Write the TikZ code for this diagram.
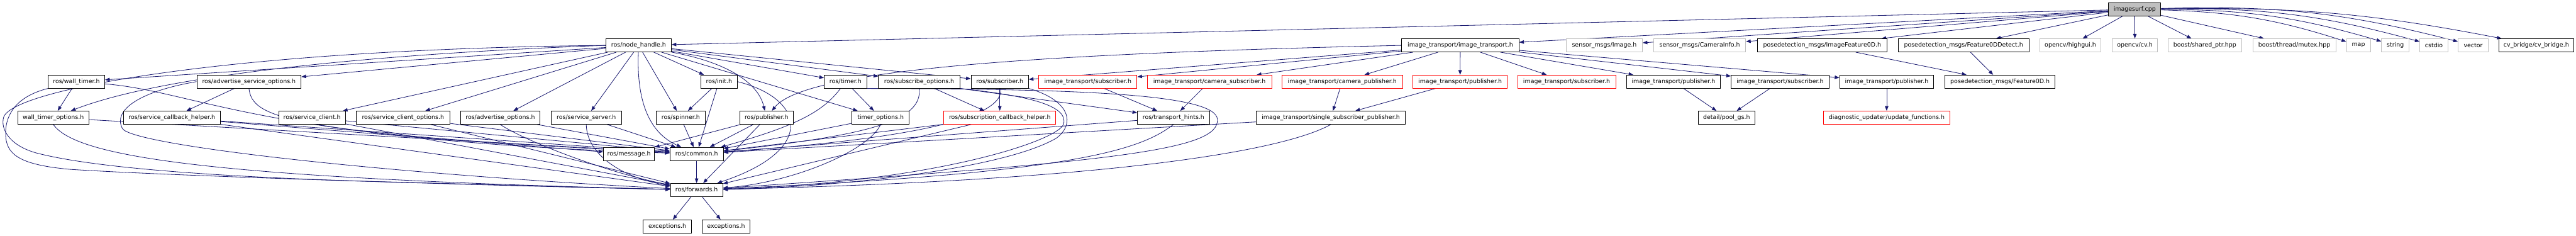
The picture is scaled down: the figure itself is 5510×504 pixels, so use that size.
\documentclass[tikz,border=0pt]{standalone}
\usepackage{fontspec}
\newfontfamily\dv{DejaVu Sans}
\usetikzlibrary{arrows.meta,backgrounds}
\definecolor{edgec}{HTML}{191970}
\definecolor{lgray}{HTML}{BFBFBF}
\tikzset{
 box/.style={draw=black,line width=1.2pt,fill=white,minimum height=28pt,inner sep=0pt,font={\dv\fontsize{12.7pt}{15pt}\selectfont}},
 redbox/.style={box,draw=red},
 graybox/.style={box,draw=lgray},
 rootbox/.style={box,fill=lgray},
 edge/.style={draw=edgec,line width=1.1pt,-{Triangle[length=10pt,width=7.5pt]}},
}
\newcommand\NB[6]{\node[#1,minimum width={#4-#3}] (#2) at ({(#3+#4)/2},#5) {#6};}
\begin{document}
\begin{tikzpicture}[x=1pt,y=-1pt]
\useasboundingbox (0,0) rectangle (5510,504);
% row 0
\NB{rootbox}{is}{4510}{4622}{20}{imagesurf.cpp}
% row 1
\NB{box}{nh}{1296}{1436}{97}{ros/node\_handle.h}
\NB{box}{it}{2998}{3249}{97}{image\_transport/image\_transport.h}
\NB{graybox}{smi}{3350}{3513}{97}{sensor\_msgs/Image.h}
\NB{graybox}{smc}{3537}{3734}{97}{sensor\_msgs/CameraInfo.h}
\NB{box}{pif}{3759}{4036}{97}{posedetection\_msgs/ImageFeature0D.h}
\NB{box}{pfd}{4060}{4340}{97}{posedetection\_msgs/Feature0DDetect.h}
\NB{graybox}{hg}{4363}{4494}{97}{opencv/highgui.h}
\NB{graybox}{cv}{4518}{4615}{97}{opencv/cv.h}
\NB{graybox}{sp}{4637}{4795}{97}{boost/shared\_ptr.hpp}
\NB{graybox}{mx}{4819}{4996}{97}{boost/thread/mutex.hpp}
\NB{graybox}{map}{5019}{5070}{97}{map}
\NB{graybox}{str}{5094}{5153}{97}{string}
\NB{graybox}{cst}{5176}{5236}{97}{cstdio}
\NB{graybox}{vec}{5258}{5322}{97}{vector}
\NB{box}{cvb}{5345}{5505}{97}{cv\_bridge/cv\_bridge.h}
% row 2
\NB{box}{wt}{103}{224}{174.5}{ros/wall\_timer.h}
\NB{box}{aso}{421}{644}{174.5}{ros/advertise\_service\_options.h}
\NB{box}{ini}{1499}{1577}{174.5}{ros/init.h}
\NB{box}{tim}{1763}{1854}{174.5}{ros/timer.h}
\NB{box}{so}{1879}{2053}{174.5}{ros/subscribe\_options.h}
\NB{box}{sub}{2077}{2200}{174.5}{ros/subscriber.h}
\NB{redbox}{its1}{2222}{2432}{174.5}{image\_transport/subscriber.h}
\NB{redbox}{itcs}{2454}{2720}{174.5}{image\_transport/camera\_subscriber.h}
\NB{redbox}{itcp}{2742}{3000}{174.5}{image\_transport/camera\_publisher.h}
\NB{redbox}{itp1}{3022}{3224}{174.5}{image\_transport/publisher.h}
\NB{redbox}{its2}{3246}{3456}{174.5}{image\_transport/subscriber.h}
\NB{box}{itp2}{3479}{3680}{174.5}{image\_transport/publisher.h}
\NB{box}{its3}{3703}{3912}{174.5}{image\_transport/subscriber.h}
\NB{box}{itp3}{3935}{4136}{174.5}{image\_transport/publisher.h}
\NB{box}{f0d}{4160}{4396}{174.5}{posedetection\_msgs/Feature0D.h}
% row 3
\NB{box}{wto}{38}{190}{251.5}{wall\_timer\_options.h}
\NB{box}{sch}{264}{471}{251.5}{ros/service\_callback\_helper.h}
\NB{box}{sc}{596}{739}{251.5}{ros/service\_client.h}
\NB{box}{sco}{762}{962}{251.5}{ros/service\_client\_options.h}
\NB{box}{ao}{985}{1155}{251.5}{ros/advertise\_options.h}
\NB{box}{ss}{1179}{1329}{251.5}{ros/service\_server.h}
\NB{box}{spn}{1404}{1508}{251.5}{ros/spinner.h}
\NB{box}{pub}{1582}{1697}{251.5}{ros/publisher.h}
\NB{box}{to}{1822}{1945}{251.5}{timer\_options.h}
\NB{redbox}{scb}{2019}{2258}{251.5}{ros/subscription\_callback\_helper.h}
\NB{box}{th}{2433}{2587}{251.5}{ros/transport\_hints.h}
\NB{box}{ssp}{2687}{3006}{251.5}{image\_transport/single\_subscriber\_publisher.h}
\NB{box}{pgs}{3632}{3754}{251.5}{detail/pool\_gs.h}
\NB{redbox}{upd}{3900}{4171}{251.5}{diagnostic\_updater/update\_functions.h}
% row 4-6
\NB{box}{msg}{1291}{1400}{329}{ros/message.h}
\NB{box}{com}{1433}{1547}{329}{ros/common.h}
\NB{box}{fw}{1434}{1546}{406}{ros/forwards.h}
\NB{box}{ex1}{1376}{1479}{484}{exceptions.h}
\NB{box}{ex2}{1502}{1604}{484}{exceptions.h}

\begin{pgfonlayer}{background}
% imagesurf.cpp
\draw[edge] (is) -- (nh);
\draw[edge] (is) -- (it);
\draw[edge] (is) -- (smi);
\draw[edge] (is) -- (smc);
\draw[edge] (is) -- (pif);
\draw[edge] (is) -- (pfd);
\draw[edge] (is) -- (hg);
\draw[edge] (is) -- (cv);
\draw[edge] (is) -- (sp);
\draw[edge] (is) -- (mx);
\draw[edge] (is) to[bend left=8] (map);
\draw[edge] (is) to[bend left=8] (str);
\draw[edge] (is) to[bend left=8] (cst);
\draw[edge] (is) to[bend left=8] (vec);
\draw[edge] (is) to[bend left=6] (cvb);
% image_transport.h
\draw[edge] (it.west) .. controls (2200,115) and (1720,150) .. (pub);
\draw[edge] (it) -- (sub);
\draw[edge] (it) -- (its1);
\draw[edge] (it) -- (itcs);
\draw[edge] (it) -- (itcp);
\draw[edge] (it) -- (itp1);
\draw[edge] (it) -- (its2);
\draw[edge] (it) -- (itp2);
\draw[edge] (it) -- (its3);
\draw[edge] (it) -- (itp3);
% node_handle.h
\draw[edge] (nh.west) .. controls (500,105) and (30,190) .. (8,250)
  .. controls (0,275) and (20,315) .. (90,330)
  .. controls (250,368) and (600,382) .. (800,388)
  .. controls (1100,396) and (1300,402) .. (fw);
\draw[edge] (nh) -- (wt);
\draw[edge] (nh.west) .. controls (800,115) and (350,160) .. (wto);
\draw[edge] (nh) -- (aso);
\draw[edge] (nh) -- (sc);
\draw[edge] (nh) -- (sco);
\draw[edge] (nh) -- (ao);
\draw[edge] (nh) -- (ss);
\draw[edge] (nh) -- (spn);
\draw[edge] (nh) .. controls (1362,200) and (1380,280) .. (com);
\draw[edge] (nh) -- (ini);
\draw[edge] (nh.south east) .. controls (1540,130) and (1620,170) .. (pub);
\draw[edge] (nh) -- (tim);
\draw[edge] (nh) -- (to);
\draw[edge] (nh) -- (so);
\draw[edge] (nh) -- (sub);
% wall_timer
\draw[edge] (wt) -- (wto);
\draw[edge] (wt.south west) .. controls (40,205) and (12,240) .. (12,285)
  .. controls (12,330) and (40,352) .. (150,362)
  .. controls (400,378) and (1100,398) .. (fw);
\draw[edge] (wt) .. controls (420,195) and (560,300) .. (com);
% wall_timer_options
\draw[edge] (wto) -- (com);
\draw[edge] (wto.south) .. controls (160,330) and (400,380) .. (fw);
% advertise_service_options
\draw[edge] (aso) -- (sch);
\draw[edge] (aso.west) .. controls (300,195) and (240,235) .. (262,275)
  .. controls (285,310) and (800,370) .. (fw);
\draw[edge] (aso.south) .. controls (540,250) and (600,285) .. (com);
% service_callback_helper
\draw[edge] (sch) -- (com);
\draw[edge] (sch) -- (fw);
\draw[edge] (sch) -- (msg);
% service client / options / advertise / server
\draw[edge] (sc) -- (com);
\draw[edge] (sc) -- (fw);
\draw[edge] (sco) -- (com);
\draw[edge] (sco) -- (fw);
\draw[edge] (ao) -- (com);
\draw[edge] (ao.south) .. controls (1120,300) and (1300,370) .. (fw);
\draw[edge] (ss) -- (com);
\draw[edge] (ss.south) .. controls (1255,330) and (1330,380) .. (fw);
% spinner, init, publisher
\draw[edge] (spn) -- (com);
\draw[edge] (ini) -- (spn);
\draw[edge] (ini) -- (com);
\draw[edge] (ini.east) .. controls (1720,210) and (1750,320) .. (fw);
\draw[edge] (pub) -- (com);
\draw[edge] (pub) -- (msg);
\draw[edge] (pub) -- (fw);
% timer
\draw[edge] (tim) -- (to);
\draw[edge] (tim) .. controls (1760,240) and (1700,270) .. (com);
\draw[edge] (tim.south east) .. controls (2300,190) and (2600,200) .. (2604,255)
  .. controls (2608,320) and (2400,345) .. (fw);
\draw[edge] (to) -- (com);
\draw[edge] (to.south) .. controls (1860,320) and (1700,390) .. (fw);
% subscribe_options, subscriber
\draw[edge] (so) -- (scb);
\draw[edge] (so.south east) -- (th);
\draw[edge] (so.south) .. controls (1975,260) and (1850,290) .. (com);
\draw[edge] (so.south east) .. controls (2200,205) and (2285,225) .. (2275,265)
  .. controls (2265,300) and (2000,390) .. (fw);
\draw[edge] (sub) -- (scb);
\draw[edge] (sub) .. controls (2150,260) and (1900,300) .. (com);
\draw[edge] (sub.south east) .. controls (2290,215) and (2300,265) .. (2260,295)
  .. controls (2150,360) and (1800,400) .. (fw);
% callback helper, transport hints, single subscriber publisher
\draw[edge] (scb) -- (com);
\draw[edge] (scb) -- (fw);
\draw[edge] (th) -- (com);
\draw[edge] (th.south) .. controls (2440,320) and (2300,370) .. (fw);
\draw[edge] (ssp) -- (com);
\draw[edge] (ssp.south) .. controls (2750,320) and (2400,385) .. (fw);
% image_transport red / black
\draw[edge] (its1) -- (th);
\draw[edge] (itcs) -- (th);
\draw[edge] (itcp) -- (ssp);
\draw[edge] (itp1) -- (ssp);
\draw[edge] (itp2) -- (pgs);
\draw[edge] (its3) -- (pgs);
\draw[edge] (itp3) -- (upd);
\draw[edge] (pif) -- (f0d);
\draw[edge] (pfd) -- (f0d);
% common / forwards
\draw[edge] (com) -- (fw);
\draw[edge] (fw) -- (ex1);
\draw[edge] (fw) -- (ex2);
\end{pgfonlayer}
\end{tikzpicture}
\end{document}
